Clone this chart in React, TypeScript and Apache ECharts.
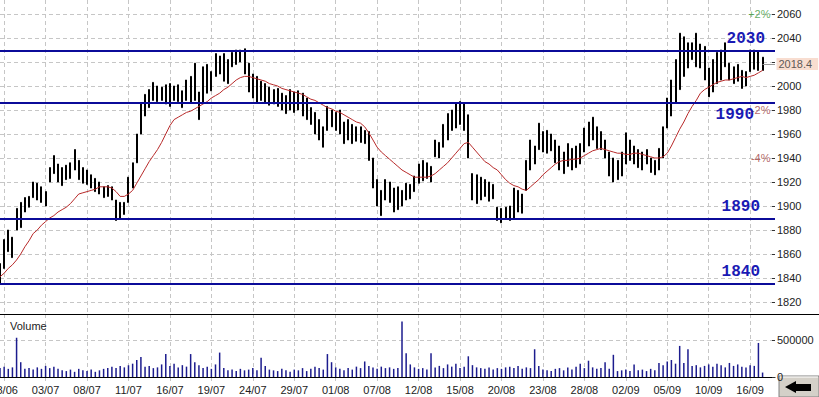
import React, { useEffect, useRef } from 'react';
import * as echarts from 'echarts';

const dateLabels = ['28/06', '03/07', '08/07', '11/07', '16/07', '19/07', '24/07', '29/07', '01/08', '07/08', '12/08', '15/08', '20/08', '23/08', '28/08', '02/09', '05/09', '10/09', '16/09'];

const lows = [
  1835, 1848, 1862, 1857, 1880, 1882, 1895, 1899, 1907, 1905,
  1903, 1900, 1920, 1927, 1920, 1917, 1922, 1923, 1930, 1922,
  1919, 1918, 1915, 1912, 1910, 1907, 1908, 1905, 1888, 1890,
  1893, 1903, 1915, 1936, 1960, 1975, 1982, 1988, 1987, 1988,
  1985, 1983, 1988, 1987, 1982, 1988, 1986, 1988, 1972, 1986,
  1994, 1996, 2008, 2010, 2004, 2002, 2016, 2018, 2020, 2010,
  1995, 1990, 1986, 1988, 1986, 1984, 1985, 1983, 1980, 1977,
  1980, 1978, 1980, 1975, 1972, 1968, 1960, 1955, 1949, 1963,
  1966, 1963, 1960, 1952, 1955, 1952, 1954, 1953, 1952, 1938,
  1915, 1900, 1892, 1905, 1903, 1895, 1897, 1900, 1905, 1906,
  1912, 1919, 1921, 1923, 1920, 1941, 1940, 1949, 1955, 1963,
  1965, 1968, 1963, 1940, 1905, 1902, 1905, 1908, 1904, 1906,
  1888, 1886, 1890, 1888, 1890, 1895, 1894, 1913, 1930, 1935,
  1947, 1945, 1944, 1946, 1936, 1930, 1927, 1933, 1930, 1932,
  1935, 1945, 1950, 1955, 1948, 1947, 1940, 1925, 1920, 1922,
  1925, 1935, 1938, 1935, 1932, 1930, 1935, 1928, 1926, 1930,
  1940, 1965, 1975, 1986, 1997, 2008, 2015, 2022, 2016, 2015,
  2005, 1991, 1995, 2002, 2005, 2016, 2005, 2002, 2004, 1998,
  2000, 2012, 2014, 2013, 2013,
];

const highs = [
  1852, 1872, 1880, 1874, 1898, 1903, 1907, 1908, 1920, 1919,
  1916, 1912, 1932, 1942, 1935, 1932, 1934, 1936, 1947, 1938,
  1932, 1930, 1926, 1923, 1920, 1916, 1917, 1916, 1905, 1903,
  1903, 1924, 1936, 1960, 1986, 1993, 1997, 2003, 2000, 1999,
  2001, 2002, 2000, 2001, 1996, 2005, 2008, 2019, 1995, 2016,
  2018, 2012, 2027, 2025, 2027, 2022, 2028, 2030, 2030, 2031,
  2019, 2010, 2008, 2004, 2002, 1999, 1997, 1998, 1994, 1992,
  1997, 1995, 1996, 1994, 1990, 1982, 1978, 1972, 1966, 1983,
  1980, 1978, 1980, 1970, 1972, 1968, 1966, 1966, 1963, 1962,
  1940, 1922, 1913, 1922, 1920, 1915, 1916, 1913, 1919, 1918,
  1925, 1935, 1938, 1936, 1933, 1955, 1953, 1968, 1977, 1980,
  1985, 1987, 1986, 1976, 1927, 1926, 1924, 1922, 1920, 1918,
  1899, 1898, 1899, 1900, 1915, 1913, 1910, 1938, 1955, 1950,
  1969, 1962, 1963, 1960, 1955, 1950, 1945, 1952, 1948, 1950,
  1952, 1965, 1970, 1974, 1966, 1962, 1955, 1945, 1940, 1938,
  1945, 1961, 1955, 1950, 1947, 1945, 1947, 1940, 1938, 1948,
  1966, 1990, 2005, 2022, 2044, 2041, 2036, 2036, 2044, 2035,
  2033, 2015, 2022, 2028, 2030, 2036, 2019, 2016, 2018, 2013,
  2012, 2030, 2030, 2029, 2024,
];

const maValues = [
  1841, 1844, 1848, 1851, 1855, 1860, 1866, 1871, 1877, 1880,
  1884, 1887, 1890, 1892, 1895, 1897, 1899, 1902, 1906, 1910,
  1911, 1912, 1913, 1914, 1916, 1916, 1916, 1915, 1912, 1908,
  1908, 1910, 1913, 1919, 1925, 1931, 1937, 1942, 1947, 1953,
  1960, 1967, 1972, 1974, 1976, 1978, 1979, 1981, 1983, 1985,
  1987, 1990, 1992, 1994, 1997, 1999, 2002, 2005, 2007, 2008,
  2008, 2007, 2006, 2005, 2004, 2002, 2001, 2000, 1998, 1997,
  1996, 1995, 1994, 1993, 1991, 1989, 1988, 1986, 1984, 1982,
  1981, 1979, 1978, 1976, 1974, 1972, 1970, 1969, 1966, 1961,
  1955, 1949, 1945, 1942, 1939, 1936, 1933, 1930, 1928, 1926,
  1924, 1924, 1924, 1924, 1925, 1927, 1930, 1933, 1936, 1940,
  1944, 1948, 1952, 1953, 1949, 1945, 1941, 1937, 1935, 1932,
  1930, 1926, 1922, 1919, 1917, 1916, 1914, 1913, 1916, 1919,
  1922, 1926, 1929, 1932, 1935, 1937, 1938, 1938, 1939, 1939,
  1940, 1942, 1944, 1946, 1947, 1948, 1947, 1946, 1945, 1944,
  1944, 1943, 1943, 1944, 1944, 1943, 1942, 1941, 1940, 1940,
  1941, 1944, 1950, 1957, 1964, 1970, 1977, 1983, 1988, 1994,
  1997, 1999, 2001, 2003, 2004, 2005, 2005, 2006, 2007, 2008,
  2007, 2008, 2009, 2011, 2013,
];

const volumes = [
  120000, 140000, 110000, 130000, 530000, 200000, 110000, 120000, 100000, 130000,
  110000, 150000, 120000, 140000, 110000, 90000, 80000, 100000, 70000, 110000,
  90000, 80000, 100000, 70000, 90000, 110000, 120000, 140000, 120000, 150000,
  130000, 160000, 180000, 230000, 270000, 140000, 150000, 120000, 130000, 170000,
  310000, 150000, 180000, 130000, 160000, 140000, 310000, 200000, 160000, 120000,
  140000, 110000, 170000, 330000, 120000, 90000, 100000, 80000, 110000, 90000,
  100000, 120000, 90000, 260000, 150000, 100000, 90000, 80000, 110000, 90000,
  70000, 100000, 90000, 120000, 80000, 110000, 140000, 120000, 100000, 310000,
  200000, 130000, 110000, 90000, 120000, 100000, 140000, 120000, 210000, 150000,
  130000, 110000, 140000, 120000, 130000, 110000, 120000, 750000, 320000, 170000,
  130000, 110000, 120000, 100000, 320000, 130000, 150000, 120000, 170000, 140000,
  180000, 120000, 140000, 280000, 160000, 130000, 120000, 110000, 130000, 100000,
  120000, 110000, 130000, 140000, 120000, 150000, 110000, 130000, 120000, 375000,
  150000, 100000, 90000, 80000, 110000, 120000, 90000, 130000, 100000, 140000,
  180000, 120000, 220000, 130000, 110000, 120000, 200000, 110000, 300000, 80000,
  90000, 100000, 80000, 170000, 90000, 100000, 80000, 110000, 90000, 190000,
  160000, 210000, 230000, 180000, 420000, 190000, 375000, 150000, 160000, 130000,
  150000, 170000, 140000, 180000, 160000, 130000, 190000, 150000, 170000, 140000,
  130000, 160000, 150000, 460000, 60000,
];

const levelValues = [2029, 1986, 1889, 1835];
const levelLabels = ['2030', '1990', '1890', '1840'];
const levelBelow = [false, true, false, false];
const levelOffsetX = [10, 21, 15, 15];

const priceTicks = [1820, 1840, 1860, 1880, 1900, 1920, 1940, 1960, 1980, 2000, 2020, 2040, 2060];
const priceTickLabels = [1820, 1840, 1860, 1880, 1900, 1920, 1940, 1960, 1980, 2000, 2040, 2060];
const volumeTicks = [0, 500000];

const pctValues = [2060, 1980, 1940];
const pctTexts = ['+2%', '-2%', '-4%'];
const pctColors = ['#3a9a3a', '#a04040', '#a04040'];

const lastPrice = 2018.4;

const CAT_COUNT = 188;
const LABEL_START = 1;
const LABEL_STEP = 10;

const categories = Array.from({ length: CAT_COUNT }, (_, i) => String(i));
const isLabelIdx = (i: number) => i >= LABEL_START && (i - LABEL_START) % LABEL_STEP === 0;

const gridLine = { show: true, lineStyle: { color: '#c6c6c6', type: [4, 3] as any, width: 1 } };
const axisFont = { fontFamily: 'Liberation Sans, Arial, sans-serif', fontSize: 11, color: '#222' };

export default function App() {
  const ref = useRef<HTMLDivElement>(null);

  useEffect(() => {
    if (!ref.current) return;
    const chart = echarts.init(ref.current, undefined, { renderer: 'svg' });
    const lastIdx = lows.length - 1;
    const edgeIdx = CAT_COUNT - 1;

    const option: any = {
      animation: false,
      backgroundColor: '#ffffff',
      grid: [
        { left: 0, right: 44, top: 0, height: 314, outerBoundsMode: 'none', containLabel: false },
        { left: 0, right: 44, top: 314, height: 67, outerBoundsMode: 'none', containLabel: false },
      ],
      xAxis: [
        {
          type: 'category', gridIndex: 0, data: categories, boundaryGap: false,
          axisLine: { show: false }, axisTick: { show: false }, axisLabel: { show: false },
          splitLine: { ...gridLine, interval: (i: number) => isLabelIdx(i) },
        },
        {
          type: 'category', gridIndex: 1, data: categories, boundaryGap: false,
          axisLine: { show: true, lineStyle: { color: '#000', width: 1 } },
          axisTick: { show: false },
          axisLabel: {
            ...axisFont, margin: 3,
            alignMinLabel: 'center', alignMaxLabel: 'center',
            interval: (i: number) => isLabelIdx(i),
            formatter: (v: string) => {
              const i = Number(v);
              return isLabelIdx(i) ? dateLabels[(i - LABEL_START) / LABEL_STEP] || '' : '';
            },
          },
          splitLine: { ...gridLine, interval: (i: number) => isLabelIdx(i) },
        },
      ],
      yAxis: [
        {
          type: 'value', gridIndex: 0, position: 'right', min: 1810, max: 2071.67, scale: true,
          axisLine: { show: false },
          axisTick: { show: true, inside: true, length: 3, lineStyle: { color: '#333' }, customValues: priceTicks },
          axisLabel: { ...axisFont, margin: 2, customValues: priceTickLabels, formatter: (v: number) => String(v) },
          splitLine: gridLine,
        },
        {
          type: 'value', gridIndex: 1, position: 'right', min: -54054, max: 851351,
          axisLine: { show: false },
          axisTick: { show: true, inside: true, length: 3, lineStyle: { color: '#333' }, customValues: volumeTicks },
          axisLabel: { ...axisFont, margin: 2, customValues: volumeTicks, formatter: (v: number) => String(v) },
          splitLine: gridLine,
        },
      ],
      series: [
        {
          type: 'candlestick', name: 'Price', xAxisIndex: 0, yAxisIndex: 0,
          data: lows.map((l, i) => [l, highs[i], l, highs[i]]),
          barWidth: 1.5,
          itemStyle: { color: '#000', color0: '#000', borderColor: '#000', borderColor0: '#000', borderWidth: 1 },
          markLine: {
            silent: true, symbol: ['none', 'none'], animation: false,
            lineStyle: { color: '#0b0b99', width: 2, type: 'solid' },
            data: levelValues.map((v, i) => ({
              yAxis: v,
              label: {
                show: true,
                formatter: levelLabels[i],
                position: levelBelow[i] ? 'insideEndBottom' : 'insideEndTop',
                distance: [levelOffsetX[i], 4],
                color: '#1a1ab4',
                fontFamily: 'Liberation Mono, DejaVu Sans Mono, monospace',
                fontWeight: 'bold',
                fontSize: 16,
              },
            })),
          },
        },
        {
          type: 'line', name: 'MA', xAxisIndex: 0, yAxisIndex: 0,
          data: maValues, symbol: 'none', showSymbol: false,
          lineStyle: { color: '#b82a2a', width: 1 },
        },
        {
          type: 'scatter', name: 'labels', xAxisIndex: 0, yAxisIndex: 0, silent: true,
          symbolSize: 1, itemStyle: { color: 'rgba(0,0,0,0)' }, clip: false,
          data: [
            ...pctValues.map((v, i) => ({
              value: [edgeIdx, v],
              label: { show: true, position: 'left', distance: 4, formatter: pctTexts[i], color: pctColors[i], fontFamily: 'Liberation Sans, Arial, sans-serif', fontSize: 11 },
            })),
            {
              value: [edgeIdx, lastPrice],
              label: {
                show: true, position: 'right', distance: 1, formatter: String(lastPrice),
                color: '#333', backgroundColor: '#f6d5c4', padding: [1, 6, 0, 2],
                fontFamily: 'Liberation Sans, Arial, sans-serif', fontSize: 11,
              },
            },
          ],
          markLine: {
            silent: true, symbol: ['none', 'none'], animation: false,
            lineStyle: { color: '#999', width: 1, type: 'solid' },
            label: { show: false },
            data: [[{ coord: [lastIdx, lastPrice] }, { coord: [edgeIdx, lastPrice] }]],
          },
        },
        {
          type: 'bar', name: 'Volume', xAxisIndex: 1, yAxisIndex: 1,
          data: volumes, barWidth: 1.5,
          itemStyle: { color: '#1c1c8e' },
        },
      ],
      graphic: [
        { type: 'line', shape: { x1: 0, y1: 314.5, x2: 819, y2: 314.5 }, style: { stroke: '#000', lineWidth: 1 }, z: 100 },
        { type: 'text', left: 10, top: 320, style: { text: 'Volume', font: '11px Liberation Sans, Arial, sans-serif', fill: '#222' }, z: 100 },
        {
          type: 'group', z: 100,
          children: [
            { type: 'rect', shape: { x: 779, y: 376, width: 40, height: 21 }, style: { fill: '#d4d0c8', stroke: '#808080', lineWidth: 1 } },
            { type: 'line', shape: { x1: 780, y1: 377, x2: 818, y2: 377 }, style: { stroke: '#ffffff', lineWidth: 1 } },
            {
              type: 'polygon',
              shape: { points: [[785, 387], [796, 381], [796, 384], [811, 384], [811, 391], [796, 391], [796, 393]] },
              style: { fill: '#000' },
            },
          ],
        },
      ],
    };

    chart.setOption(option);
    return () => chart.dispose();
  }, []);

  return <div ref={ref} style={{ position: 'absolute', left: 0, top: 0, width: 819, height: 397 }} />;
}
